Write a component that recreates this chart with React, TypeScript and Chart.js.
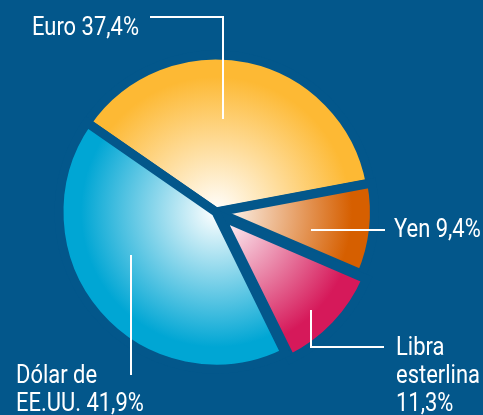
import React, { useEffect, useRef } from 'react';
import { Chart, registerables } from 'chart.js';

Chart.register(...registerables);

const W = 483;
const H = 415;
const BG = '#03578b';

// ---- data ----
const categories = ['Euro', 'Yen', 'Libra esterlina', 'Dólar de EE.UU.'];
const shares = [37.4, 9.4, 11.3, 41.9];
const labelText = [
  ['Euro 37,4%'],
  ['Yen 9,4%'],
  ['Libra', 'esterlina', '11,3%'],
  ['Dólar de', 'EE.UU. 41,9%'],
];
const rimColors = ['#fdb934', '#d65f00', '#d6195a', '#00a6d4'];
const sliceOffsets = [0, 4, 24, 0];

// ---- layout (leader lines / labels) ----
const RADIUS = 157;
const leaders = [
  { frac: 0.443, rf: 0.594, kind: 'upLeft', elbowY: 17, endX: 150, textX: 139, align: 'right', baselines: [35] },
  { frac: 0.631, rf: 0.616, kind: 'right', endX: 385, textX: 394, align: 'left', baselines: [237] },
  { frac: 0.558, rf: 0.869, kind: 'downRight', elbowY: 347, endX: 384, textX: 396, align: 'left', baselines: [355, 383, 411] },
  { frac: 0.592, rf: 0.607, kind: 'down', endY: 375, textX: 16, align: 'left', baselines: [383, 411] },
];
const FONT = "25px Roboto, 'Liberation Sans', sans-serif";
const REF_LABEL = 'Euro 37,4%';
const REF_WIDTH = 107;

const leaderPlugin = {
  id: 'leaders',
  afterDatasetsDraw(chart: any) {
    const ctx = chart.ctx;
    const meta = chart.getDatasetMeta(0);
    ctx.save();
    ctx.strokeStyle = '#ffffff';
    ctx.fillStyle = '#ffffff';
    ctx.lineWidth = 2;
    ctx.lineCap = 'butt';
    ctx.lineJoin = 'miter';
    ctx.font = FONT;
    ctx.textBaseline = 'alphabetic';
    const sx = REF_WIDTH / ctx.measureText(REF_LABEL).width;
    meta.data.forEach((arc: any, i: number) => {
      const L: any = leaders[i];
      const p = arc.getProps(['x', 'y', 'startAngle', 'endAngle', 'outerRadius'], true);
      const ang = p.startAngle + L.frac * (p.endAngle - p.startAngle);
      const r = L.rf * p.outerRadius;
      const ax = Math.round(p.x + Math.cos(ang) * r);
      const ay = Math.round(p.y + Math.sin(ang) * r);
      ctx.beginPath();
      ctx.moveTo(ax, ay);
      if (L.kind === 'upLeft') {
        ctx.lineTo(ax, L.elbowY);
        ctx.lineTo(L.endX, L.elbowY);
      } else if (L.kind === 'right') {
        ctx.lineTo(L.endX, ay);
      } else if (L.kind === 'downRight') {
        ctx.lineTo(ax, L.elbowY);
        ctx.lineTo(L.endX, L.elbowY);
      } else {
        ctx.lineTo(ax, L.endY);
      }
      ctx.stroke();
      ctx.textAlign = L.align;
      labelText[i].forEach((t, j) => {
        ctx.save();
        ctx.translate(L.textX, L.baselines[j]);
        ctx.scale(sx, 1);
        ctx.fillText(t, 0, 0);
        ctx.restore();
      });
    });
    ctx.restore();
  },
};

export default function App() {
  const ref = useRef<HTMLCanvasElement | null>(null);
  useEffect(() => {
    document.body.style.margin = '0';
    document.body.style.background = BG;
    const canvas = ref.current!;
    const chart = new Chart(canvas, {
      type: 'pie',
      data: {
        labels: categories,
        datasets: [
          {
            data: shares,
            backgroundColor: (c: any) => {
              const rim = rimColors[c.dataIndex] || rimColors[0];
              const a = c.chart.chartArea;
              if (!a) return rim;
              const cx = (a.left + a.right) / 2;
              const cy = (a.top + a.bottom) / 2;
              const g = c.chart.ctx.createRadialGradient(cx, cy, 0, cx, cy, RADIUS);
              g.addColorStop(0, '#ffffff');
              g.addColorStop(0.86, rim);
              g.addColorStop(1, rim);
              return g;
            },
            borderColor: BG,
            borderWidth: 9,
            borderJoinStyle: 'miter',
            offset: sliceOffsets,
            hoverOffset: 0,
          } as any,
        ],
      },
      options: {
        animation: false,
        responsive: false,
        devicePixelRatio: 1,
        events: [],
        rotation: -55.3,
        radius: RADIUS,
        layout: { padding: { left: 0, right: 51, top: 9, bottom: 0 } },
        plugins: {
          legend: { display: false },
          tooltip: { enabled: false },
        },
      } as any,
      plugins: [leaderPlugin],
    });
    return () => chart.destroy();
  }, []);
  return (
    <div style={{ position: 'absolute', left: 0, top: 0, width: W, height: H, background: BG, overflow: 'hidden' }}>
      <canvas ref={ref} width={W} height={H} style={{ width: W, height: H, display: 'block' }} />
    </div>
  );
}
